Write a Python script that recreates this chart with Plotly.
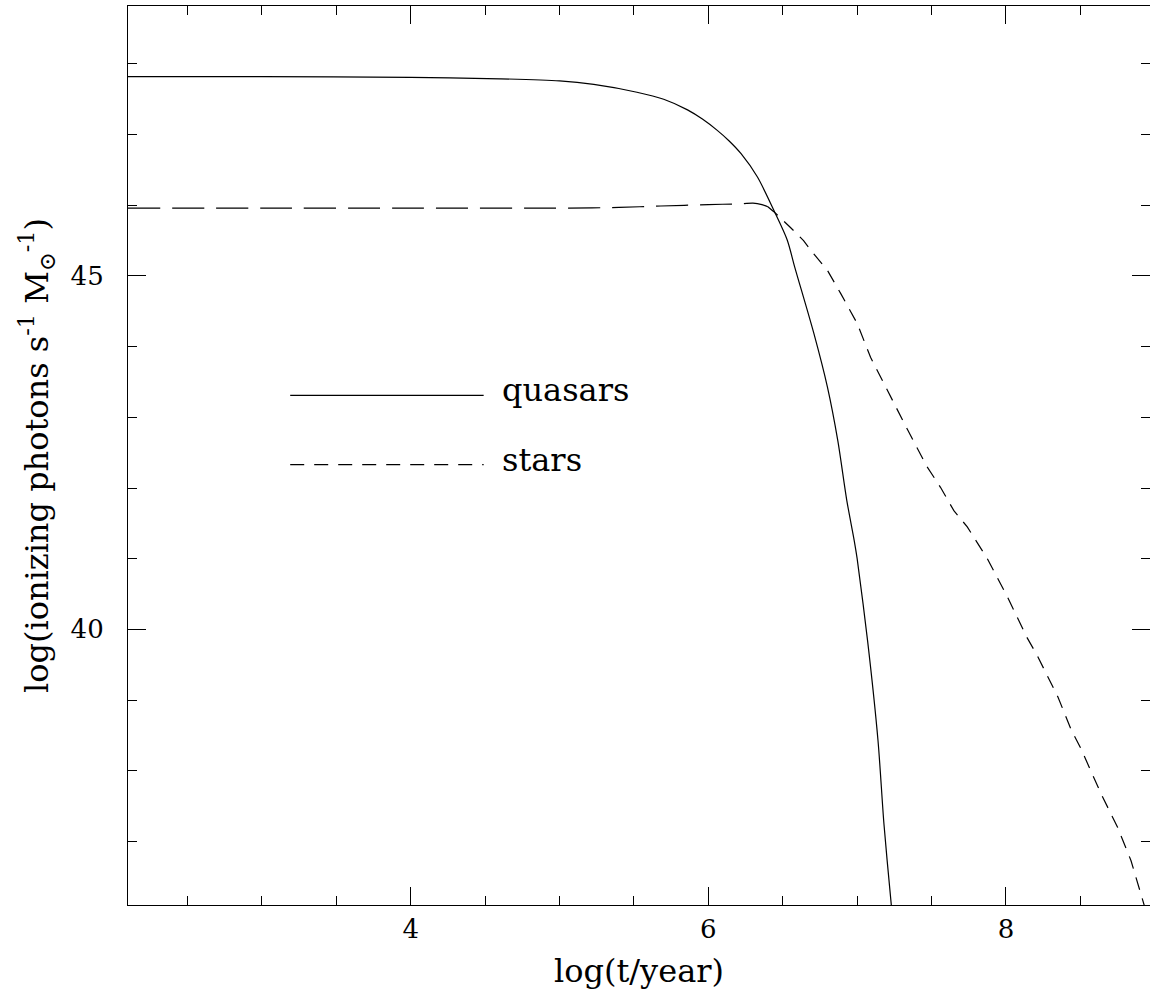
import plotly.graph_objects as go

# ---- data ----
quasar_logt = [2.10, 3.00, 4.00, 4.60, 5.00, 5.23, 5.52, 5.70, 5.86, 5.96, 6.06, 6.14, 6.22, 6.33, 6.44,
               6.53, 6.58, 6.71, 6.80, 6.87, 6.93, 6.98, 7.00, 7.07, 7.14, 7.18, 7.23, 7.24]
quasar_logQ = [47.82, 47.82, 47.81, 47.79, 47.76, 47.71, 47.60, 47.50, 47.35, 47.22, 47.06, 46.91, 46.73, 46.40, 45.93,
               45.51, 45.13, 44.18, 43.43, 42.67, 41.83, 41.26, 41.00, 39.84, 38.43, 37.25, 36.09, 35.90]

stars_logt = [2.10, 3.00, 4.00, 5.06, 5.40, 5.68, 6.00, 6.20, 6.30, 6.36, 6.40, 6.44, 6.55, 6.64, 6.69,
              6.80, 6.89, 7.00, 7.09, 7.20, 7.25, 7.34, 7.47, 7.56, 7.65, 7.74, 7.81, 7.875,
              8.01, 8.14, 8.21, 8.35, 8.44, 8.50, 8.64, 8.75, 8.84, 8.905, 8.93]
stars_logQ = [45.96, 45.96, 45.96, 45.96, 45.97, 45.99, 46.01, 46.02, 46.03, 46.01, 45.98, 45.91, 45.69, 45.50, 45.36,
              45.08, 44.75, 44.33, 43.85, 43.38, 43.19, 42.82, 42.30, 42.01, 41.68, 41.45, 41.22, 41.00,
              40.46, 39.89, 39.63, 39.04, 38.57, 38.33, 37.67, 37.20, 36.73, 36.26, 36.09]

x_major_ticks = [4, 6, 8]
y_major_ticks = [40, 45]

legend_labels = ["quasars", "stars"]
legend_line_x = [3.19, 4.49]
legend_line_y = [43.31, 42.33]
legend_text_x = 4.60
legend_text_y = [43.38, 42.40]

x_range = [2.10, 8.968]
y_range = [36.10, 48.82]

# ---- figure ----
FONT = "DejaVu Serif"
LW = 1.2
split_t = 6.40
flat_idx = [i for i, t in enumerate(stars_logt) if t <= split_t]
steep_idx = [i for i, t in enumerate(stars_logt) if t >= split_t]

fig = go.Figure()
fig.add_trace(go.Scatter(x=quasar_logt, y=quasar_logQ, mode="lines",
                         line=dict(color="black", width=LW, shape="spline", smoothing=0.8),
                         showlegend=False))
fig.add_trace(go.Scatter(x=[stars_logt[i] for i in flat_idx], y=[stars_logQ[i] for i in flat_idx],
                         mode="lines", line=dict(color="black", width=LW, dash="32px,12px",
                                                 shape="spline", smoothing=0.6),
                         showlegend=False))
fig.add_trace(go.Scatter(x=[stars_logt[i] for i in steep_idx], y=[stars_logQ[i] for i in steep_idx],
                         mode="lines", line=dict(color="black", width=LW, dash="13px,9px"),
                         showlegend=False))

# legend samples
fig.add_trace(go.Scatter(x=legend_line_x, y=[legend_line_y[0]] * 2, mode="lines",
                         line=dict(color="black", width=LW), showlegend=False))
fig.add_trace(go.Scatter(x=legend_line_x, y=[legend_line_y[1]] * 2, mode="lines",
                         line=dict(color="black", width=LW, dash="14px,10px"), showlegend=False))
for lab, ty in zip(legend_labels, legend_text_y):
    fig.add_annotation(x=legend_text_x, y=ty, text=lab, showarrow=False, xanchor="left",
                       yanchor="middle", font=dict(family=FONT, size=32, color="black"))

# dummy trace so the right-hand tick axis is drawn
fig.add_trace(go.Scatter(x=[None], y=[None], yaxis="y2", showlegend=False))

fig.update_layout(
    width=1150, height=996,
    margin=dict(l=128, r=0, t=6, b=91),
    paper_bgcolor="white", plot_bgcolor="white",
    showlegend=False,
    xaxis=dict(range=x_range, showline=True, linecolor="black", linewidth=LW, mirror="ticks",
               ticks="inside", ticklen=18, tickwidth=LW, tickcolor="black",
               tickvals=x_major_ticks, ticktext=[str(v) for v in x_major_ticks],
               minor=dict(dtick=0.5, tick0=0, ticks="inside", ticklen=9, tickwidth=LW, tickcolor="black"),
               showgrid=False, zeroline=False,
               tickfont=dict(family=FONT, size=26, color="black"), ticklabelstandoff=1,
               title=dict(text="log(t/year)", font=dict(family=FONT, size=32, color="black"), standoff=16)),
    yaxis=dict(range=y_range, showline=True, linecolor="black", linewidth=LW, mirror=False,
               ticks="inside", ticklen=18, tickwidth=LW, tickcolor="black",
               tickvals=y_major_ticks, ticktext=[str(v) for v in y_major_ticks],
               minor=dict(dtick=1, tick0=0, ticks="inside", ticklen=9, tickwidth=LW, tickcolor="black"),
               showgrid=False, zeroline=False,
               tickfont=dict(family=FONT, size=26, color="black"), ticklabelstandoff=18,
               title=dict(text="log(ionizing photons s<sup>-1</sup> M<sub>⊙</sub><sup>-1</sup>)",
                          font=dict(family=FONT, size=32, color="black"), standoff=12)),
    yaxis2=dict(range=y_range, overlaying="y", side="right", showline=False,
                ticks="inside", ticklen=18, tickwidth=LW, tickcolor="black",
                tickvals=y_major_ticks, showticklabels=False,
                minor=dict(dtick=1, tick0=0, ticks="inside", ticklen=9, tickwidth=LW, tickcolor="black"),
                showgrid=False, zeroline=False),
)

fig.write_html("out.html")
